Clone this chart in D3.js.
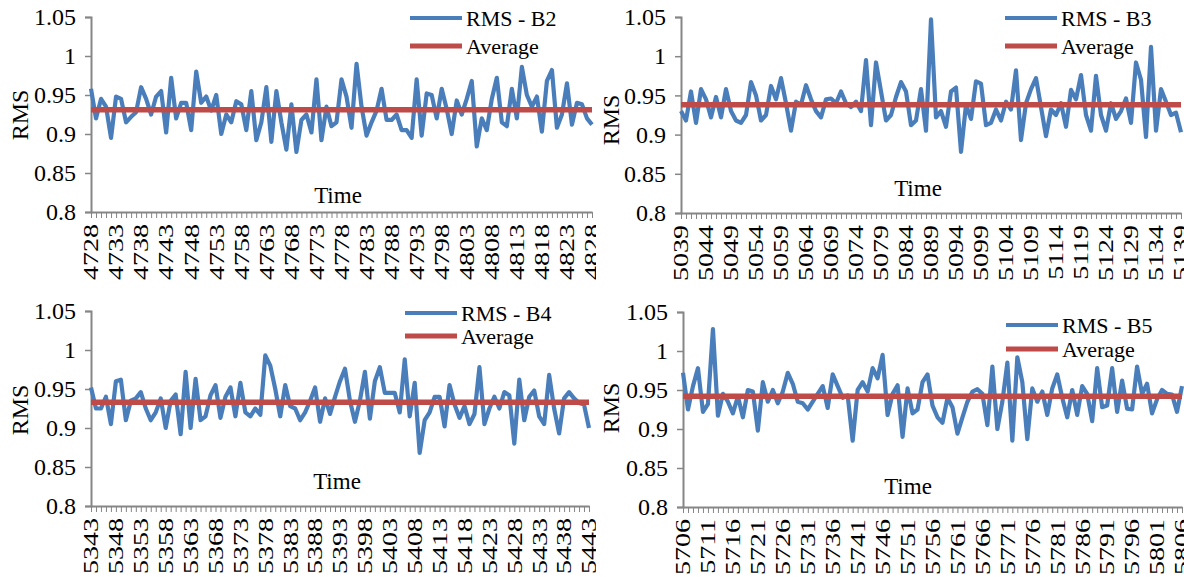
<!DOCTYPE html>
<html>
<head>
<meta charset="utf-8">
<script src="https://cdn.jsdelivr.net/npm/d3@7"></script>
<style>
  body { margin: 0; background: #fff; }
  svg { display: block; }
  text { font-family: "Liberation Serif", "Times New Roman", serif; fill: #000; }
</style>
</head>
<body>
<div id="chart"></div>
<script>
// time categories (consecutive samples)
const timeB2 = d3.range(4728, 4829)
const timeB3 = d3.range(5039, 5140)
const timeB4 = d3.range(5343, 5444)
const timeB5 = d3.range(5706, 5807)

const rmsB2 = [0.958, 0.92, 0.945, 0.935, 0.895, 0.948, 0.945, 0.915, 0.922, 0.928,
    0.96, 0.945, 0.925, 0.948, 0.955, 0.902, 0.972, 0.92, 0.94, 0.94,
    0.905, 0.98, 0.94, 0.948, 0.93, 0.95, 0.9, 0.925, 0.915, 0.942,
    0.938, 0.905, 0.955, 0.892, 0.915, 0.96, 0.89, 0.955, 0.915, 0.88,
    0.938, 0.877, 0.918, 0.925, 0.902, 0.97, 0.892, 0.935, 0.91, 0.915,
    0.97, 0.948, 0.908, 0.99, 0.935, 0.898, 0.915, 0.93, 0.958, 0.918,
    0.918, 0.925, 0.905, 0.905, 0.895, 0.97, 0.898, 0.952, 0.95, 0.92,
    0.958, 0.932, 0.9, 0.943, 0.925, 0.945, 0.968, 0.884, 0.92, 0.905,
    0.945, 0.972, 0.915, 0.91, 0.958, 0.92, 0.986, 0.95, 0.935, 0.948,
    0.903, 0.968, 0.982, 0.908, 0.925, 0.965, 0.912, 0.94, 0.938, 0.92,
    0.912]
const rmsB3 = [0.93, 0.918, 0.955, 0.915, 0.958, 0.945, 0.922, 0.948, 0.922, 0.958,
    0.93, 0.918, 0.915, 0.925, 0.967, 0.95, 0.918, 0.925, 0.962, 0.945,
    0.972, 0.94, 0.905, 0.942, 0.938, 0.963, 0.945, 0.93, 0.922, 0.945,
    0.946, 0.94, 0.955, 0.94, 0.935, 0.942, 0.93, 0.995, 0.912, 0.992,
    0.955, 0.918, 0.925, 0.948, 0.967, 0.955, 0.912, 0.918, 0.958, 0.905,
    1.047, 0.922, 0.93, 0.91, 0.955, 0.96, 0.878, 0.938, 0.92, 0.968,
    0.965, 0.912, 0.915, 0.932, 0.918, 0.942, 0.932, 0.982, 0.893, 0.94,
    0.958, 0.972, 0.935, 0.898, 0.932, 0.925, 0.94, 0.91, 0.957, 0.945,
    0.976, 0.925, 0.905, 0.975, 0.925, 0.905, 0.94, 0.92, 0.93, 0.946,
    0.915, 0.992, 0.97, 0.897, 1.012, 0.905, 0.958, 0.942, 0.925, 0.928,
    0.903]
const rmsB4 = [0.952, 0.925, 0.925, 0.94, 0.905, 0.96, 0.962, 0.91, 0.935, 0.938,
    0.946, 0.925, 0.91, 0.92, 0.938, 0.9, 0.935, 0.943, 0.892, 0.972,
    0.9, 0.963, 0.91, 0.915, 0.942, 0.955, 0.913, 0.94, 0.952, 0.915,
    0.958, 0.92, 0.915, 0.925, 0.917, 0.993, 0.98, 0.95, 0.915, 0.955,
    0.928, 0.925, 0.91, 0.92, 0.935, 0.952, 0.908, 0.938, 0.918, 0.94,
    0.96, 0.976, 0.935, 0.908, 0.935, 0.972, 0.912, 0.96, 0.978, 0.945,
    0.945, 0.945, 0.92, 0.988, 0.915, 0.958, 0.868, 0.91, 0.92, 0.94,
    0.94, 0.902, 0.955, 0.93, 0.913, 0.928, 0.905, 0.918, 0.978, 0.905,
    0.925, 0.94, 0.925, 0.946, 0.942, 0.88, 0.962, 0.91, 0.94, 0.948,
    0.915, 0.905, 0.968, 0.925, 0.893, 0.938, 0.946, 0.938, 0.932, 0.93,
    0.9]
const rmsB5 = [0.972, 0.925, 0.955, 0.978, 0.922, 0.932, 1.028, 0.917, 0.945, 0.935,
    0.92, 0.942, 0.915, 0.95, 0.948, 0.898, 0.96, 0.935, 0.95, 0.933,
    0.948, 0.972, 0.958, 0.935, 0.933, 0.925, 0.935, 0.945, 0.955, 0.927,
    0.97, 0.955, 0.94, 0.943, 0.885, 0.95, 0.96, 0.948, 0.978, 0.965,
    0.995, 0.918, 0.945, 0.956, 0.89, 0.952, 0.92, 0.925, 0.96, 0.97,
    0.93, 0.915, 0.908, 0.94, 0.928, 0.894, 0.915, 0.935, 0.948, 0.951,
    0.945, 0.905, 0.98, 0.9, 0.935, 0.985, 0.885, 0.992, 0.96, 0.887,
    0.952, 0.935, 0.948, 0.918, 0.952, 0.97, 0.94, 0.915, 0.95, 0.918,
    0.955, 0.945, 0.91, 0.978, 0.928, 0.93, 0.978, 0.922, 0.962, 0.926,
    0.925, 0.98, 0.945, 0.958, 0.92, 0.938, 0.95, 0.945, 0.944, 0.922,
    0.955]

const averages = [0.931, 0.938, 0.933, 0.942]
const seriesNames = ["RMS - B2", "RMS - B3", "RMS - B4", "RMS - B5"]
const yTicks = [0.8, 0.85, 0.9, 0.95, 1, 1.05]

const blue = "#4a7ebb"
const red = "#be4b48"
const axisColor = "#868686"

const width = 1184
const height = 577

// layout of the 4 panels
const layout = [
    {clipX: 0, clipW: 596, left: 91, right: 592, top: 17, bottom: 212, timeX: 338, timeY: 203, rmsX: 28, rmsY: 115, legX: 410, legY: 18, legGap: 28},
    {clipX: 596, clipW: 588, left: 681, right: 1181, top: 17, bottom: 213, timeX: 918, timeY: 196, rmsX: 619, rmsY: 120, legX: 1005, legY: 18, legGap: 28},
    {clipX: 0, clipW: 596, left: 91, right: 589, top: 311, bottom: 506, timeX: 337, timeY: 489, rmsX: 28, rmsY: 410, legX: 405, legY: 313, legGap: 23},
    {clipX: 596, clipW: 588, left: 683, right: 1182, top: 312, bottom: 507, timeX: 908, timeY: 494, rmsX: 619, rmsY: 408, legX: 1006, legY: 325, legGap: 24}
]

const panels = [
    {times: timeB2, values: rmsB2},
    {times: timeB3, values: rmsB3},
    {times: timeB4, values: rmsB4},
    {times: timeB5, values: rmsB5}
].map(function(p, i) {
    return Object.assign(p, {name: seriesNames[i], avg: averages[i]}, layout[i])
})

const svg = d3.select("#chart")
    .append("svg")
    .attr("width", width)
    .attr("height", height)

panels.forEach(function(p, i) {
    drawPanel(p, i)
})

function drawPanel(p, i) {
    svg.append("clipPath")
        .attr("id", "clip" + i)
        .append("rect")
        .attr("x", p.clipX)
        .attr("y", 0)
        .attr("width", p.clipW)
        .attr("height", height)

    const g = svg.append("g").attr("clip-path", "url(#clip" + i + ")")

    const x = d3.scalePoint()
        .domain(p.times)
        .range([p.left, p.right])

    const y = d3.scaleLinear()
        .domain([0.8, 1.05])
        .range([p.bottom, p.top])

    // y axis
    const yAxis = g.append("g")
        .attr("transform", "translate(" + p.left + ",0)")
        .call(d3.axisLeft(y).tickValues(yTicks).tickSize(6).tickPadding(9)
            .tickFormat(d3.format("~g")))
        .attr("font-family", null)
        .attr("font-size", null)
    yAxis.select(".domain").attr("stroke", axisColor).attr("stroke-width", 2)
    yAxis.selectAll(".tick line").attr("stroke", axisColor).attr("stroke-width", 1.5)
    yAxis.selectAll("text")
        .style("font-size", "24px")
        .attr("fill", "#000")

    // x axis: tick at every category, label every 5th
    const xAxis = g.append("g")
        .attr("transform", "translate(0," + p.bottom + ")")
        .call(d3.axisBottom(x).tickSize(6).tickSizeOuter(0)
            .tickFormat(function(d, k) { return k % 5 === 0 ? d : "" }))
        .attr("font-family", null)
        .attr("font-size", null)
    xAxis.select(".domain").attr("stroke", axisColor).attr("stroke-width", 2)
    xAxis.selectAll(".tick line").attr("stroke", axisColor).attr("stroke-width", 1)
    xAxis.selectAll("text")
        .style("font-size", "20px")
        .attr("fill", "#000")
        .attr("text-anchor", "end")
        .attr("transform", "rotate(-90) scale(1.4,1)")
        .attr("x", -8.5)
        .attr("y", 0)
        .attr("dy", "0.34em")

    // axis titles
    g.append("text")
        .attr("x", p.timeX)
        .attr("y", p.timeY)
        .attr("text-anchor", "middle")
        .style("font-size", "23px")
        .text("Time")

    g.append("text")
        .attr("transform", "translate(" + p.rmsX + "," + p.rmsY + ") rotate(-90)")
        .attr("text-anchor", "middle")
        .style("font-size", "24px")
        .text("RMS")

    // series
    const line = d3.line()
        .x(function(d, k) { return x(p.times[k]) })
        .y(function(d) { return y(d) })

    g.append("path")
        .datum(p.values)
        .attr("fill", "none")
        .attr("stroke", blue)
        .attr("stroke-width", 4.2)
        .attr("stroke-linejoin", "round")
        .attr("d", line)

    g.append("line")
        .attr("x1", x(p.times[0]))
        .attr("x2", x(p.times[p.times.length - 1]))
        .attr("y1", y(p.avg))
        .attr("y2", y(p.avg))
        .attr("stroke", red)
        .attr("stroke-width", 5.5)

    // legend
    const legend = g.append("g")
        .attr("transform", "translate(" + p.legX + "," + p.legY + ")")
    const items = [{label: p.name, color: blue, w: 4.2}, {label: "Average", color: red, w: 5}]
    items.forEach(function(it, k) {
        legend.append("line")
            .attr("x1", 0).attr("x2", 52)
            .attr("y1", k * p.legGap).attr("y2", k * p.legGap)
            .attr("stroke", it.color)
            .attr("stroke-width", it.w)
        legend.append("text")
            .attr("x", 56)
            .attr("y", k * p.legGap)
            .attr("dy", "0.35em")
            .style("font-size", "22px")
            .text(it.label)
    })
}
</script>
</body>
</html>
